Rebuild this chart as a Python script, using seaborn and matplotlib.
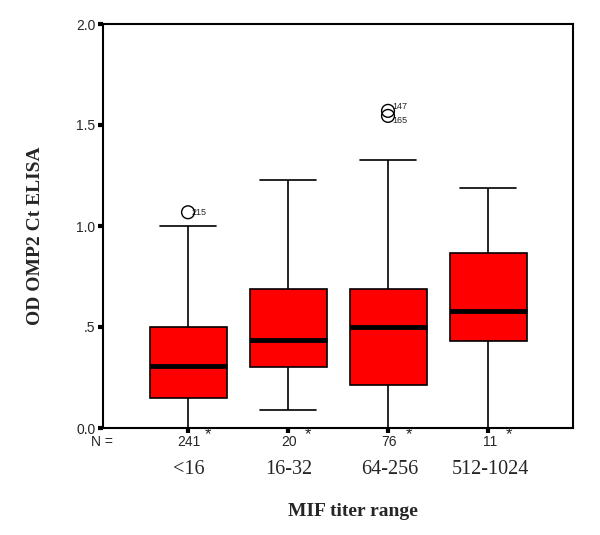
import pandas as pd
import matplotlib
matplotlib.use("Agg")
import matplotlib.pyplot as plt
import seaborn as sns

# values (five-number summary per titer group)
categories = ["<16", "16-32", "64-256", "512-1024"]
n_counts = ["241", "20", "76", "11"]
whisker_low = [0.0, 0.09, 0.0, 0.0]
q1 = [0.15, 0.30, 0.215, 0.43]
median = [0.305, 0.435, 0.50, 0.58]
q3 = [0.50, 0.69, 0.69, 0.865]
whisker_high = [1.0, 1.228, 1.327, 1.188]

# SPSS-style labelled outliers
outlier_group = ["<16", "64-256", "64-256"]
outlier_value = [1.068, 1.57, 1.545]
outlier_case = ["215", "147", "165"]
outlier_va = ["center", "bottom", "top"]

yticks = [0.0, 0.5, 1.0, 1.5, 2.0]
ytick_labels = ["0.0", ".5", "1.0", "1.5", "2.0"]

# long table: 5 points per group give exactly these quartiles
rows = []
for i, g in enumerate(categories):
    for v in [whisker_low[i], q1[i], median[i], q3[i], whisker_high[i]]:
        rows.append({"group": g, "od": v})
df = pd.DataFrame(rows)

sns.set_style("ticks")
serif = "Liberation Serif"
sans = "Liberation Sans"
plt.rcParams["font.family"] = [sans, "DejaVu Sans"]

fig = plt.figure(figsize=(6, 5.35), dpi=100)
ax = fig.add_axes([103 / 600, 1 - 428 / 535, 470 / 600, 404 / 535])

sns.boxplot(data=df, x="group", y="od", order=categories, color="#ff0000",
            saturation=1, width=0.77, whis=(0, 100), linecolor="black",
            linewidth=1.2, showfliers=False, capwidths=0.56,
            medianprops=dict(linewidth=3.5, color="black"), ax=ax)

# outliers as hollow circles with case numbers
pos = [categories.index(g) for g in outlier_group]
ax.scatter(pos, outlier_value, s=85, facecolors="none", edgecolors="black",
           linewidths=1, zorder=5, clip_on=False)
for x, y, lab, va in zip(pos, outlier_value, outlier_case, outlier_va):
    ax.text(x + 0.04, y, lab, fontsize=6.5, va=va, ha="left")

ax.set_xlim(-0.85, 3.85)
ax.set_ylim(0, 2.0)
ax.set_xticks(range(len(categories)))
ax.set_xticklabels([])
ax.set_yticks(yticks)
ax.set_yticklabels(ytick_labels, fontsize=10)
ax.tick_params(axis="both", direction="out", length=3.5, width=3, color="black", pad=2)
ax.set_xlabel("")
ax.set_ylabel("")
for s in ax.spines.values():
    s.set_visible(True)
    s.set_linewidth(1.5)
    s.set_color("black")

# N counts, asterisks and category labels under the axis
fig.text(102 / 600, 1 - 442 / 535, "N =", fontsize=10, ha="center", va="center")
for i, (c, n) in enumerate(zip(categories, n_counts)):
    xc = (188.5 + 100.5 * i) / 600
    fig.text(xc, 1 - 442 / 535, n, fontsize=10, ha="center", va="center")
    fig.text(xc + 19 / 600, 1 - 435 / 535, "*", fontsize=12, ha="center", va="center")
    fig.text(xc, 1 - 470 / 535, c, fontsize=14.5, ha="center", va="center", family=serif)

fig.text(353 / 600, 1 - 511 / 535, "MIF titer range", fontsize=14, fontweight="bold",
         ha="center", va="center", family=serif)
fig.text(36 / 600, 1 - 236 / 535, "OD OMP2 Ct ELISA", fontsize=14, fontweight="bold",
         ha="center", va="center", rotation=90, family=serif)

fig.savefig("out.png", dpi=100)
